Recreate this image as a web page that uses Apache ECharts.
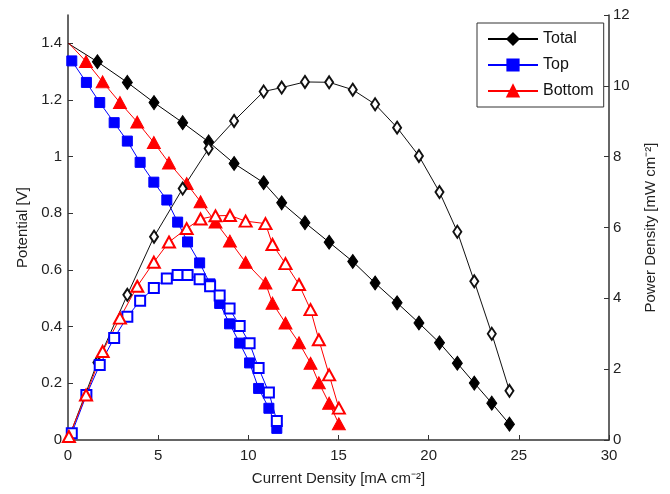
<!DOCTYPE html>
<html>
<head>
<meta charset="utf-8">
<script src="https://cdn.jsdelivr.net/npm/echarts@6/dist/echarts.min.js"></script>
<style>
html,body{margin:0;padding:0;background:#fff;}
#chart{width:670px;height:494px;}
</style>
</head>
<body>
<div id="chart"></div>
<script>
// Current density [mA cm-2]
const totalCurrent = [0, 1.63, 3.29, 4.77, 6.36, 7.80, 9.21, 10.85, 11.85, 13.14, 14.48, 15.79, 17.03, 18.25, 19.46, 20.60, 21.59, 22.53, 23.50, 24.48];
const totalPotential = [1.40, 1.335, 1.262, 1.191, 1.120, 1.052, 0.976, 0.908, 0.837, 0.767, 0.698, 0.630, 0.554, 0.484, 0.413, 0.343, 0.271, 0.201, 0.130, 0.056];
const totalPower = [0, 2.19, 4.10, 5.74, 7.10, 8.23, 9.01, 9.84, 9.95, 10.11, 10.10, 9.89, 9.48, 8.82, 8.02, 7.00, 5.88, 4.48, 3.00, 1.39];

const topCurrent = [0.21, 1.02, 1.76, 2.56, 3.29, 4.00, 4.76, 5.48, 6.08, 6.63, 7.30, 7.88, 8.41, 8.96, 9.52, 10.07, 10.57, 11.14, 11.58];
const topPotential = [1.338, 1.262, 1.191, 1.120, 1.055, 0.980, 0.910, 0.847, 0.769, 0.699, 0.625, 0.551, 0.482, 0.410, 0.342, 0.272, 0.182, 0.112, 0.041];
const topPower = [0.19, 1.27, 2.12, 2.88, 3.48, 3.93, 4.29, 4.56, 4.66, 4.66, 4.54, 4.34, 4.08, 3.71, 3.22, 2.73, 2.03, 1.34, 0.54];

const bottomCurrent = [0.05, 1.00, 1.92, 2.88, 3.84, 4.76, 5.60, 6.58, 7.35, 8.18, 8.98, 9.85, 10.95, 11.34, 12.06, 12.81, 13.45, 13.91, 14.48, 15.02];
const bottomPotential = [1.40, 1.336, 1.264, 1.191, 1.122, 1.050, 0.978, 0.905, 0.841, 0.769, 0.702, 0.627, 0.554, 0.483, 0.413, 0.343, 0.271, 0.202, 0.130, 0.057];
const bottomPower = [0.10, 1.27, 2.50, 3.44, 4.34, 5.02, 5.59, 5.97, 6.24, 6.33, 6.34, 6.18, 6.11, 5.52, 4.98, 4.39, 3.68, 2.83, 1.84, 0.90];

const legendNames = ['Total', 'Top', 'Bottom'];

function pairs(xs, ys, hideFirst) {
  return xs.map(function (x, i) {
    if (hideFirst && i === 0) return { value: [x, ys[i]], symbol: 'none' };
    return [x, ys[i]];
  });
}

const FONT = 'Liberation Sans, Arial, sans-serif';
const AX = '#333';

const chart = echarts.init(document.getElementById('chart'), null, { renderer: 'canvas' });

function lineSeries(name, xs, ys, yIdx, color, symbol, size, hideFirst) {
  return {
    name: name,
    type: 'line',
    yAxisIndex: yIdx,
    data: pairs(xs, ys, hideFirst),
    symbol: symbol,
    symbolSize: size,
    showAllSymbol: true,
    animation: false,
    lineStyle: { color: color, width: 1 },
    itemStyle: { color: color, borderColor: color, borderWidth: 1 },
    emphasis: { disabled: true },
    z: 2
  };
}

chart.setOption({
  animation: false,
  backgroundColor: '#fff',
  textStyle: { fontFamily: FONT },
  grid: { left: 68, right: 61, top: 15, bottom: 54, containLabel: false },
  legend: {
    data: legendNames,
    orient: 'vertical',
    left: 477,
    top: 23,
    width: 123,
    padding: [8, 10, 8, 10],
    itemWidth: 50,
    itemHeight: 14,
    itemGap: 10,
    borderColor: '#333',
    borderWidth: 1,
    backgroundColor: '#fff',
    textStyle: { fontFamily: FONT, fontSize: 16, color: '#111' }
  },
  xAxis: {
    type: 'value',
    min: 0, max: 30, interval: 5,
    name: 'Current Density [mA cm\u207B\u00B2]',
    nameLocation: 'middle',
    nameGap: 31,
    nameTextStyle: { fontFamily: FONT, fontSize: 15, color: '#222' },
    axisLine: { show: true, onZero: false, lineStyle: { color: AX, width: 1.5 } },
    axisTick: { show: true, inside: true, length: 5, lineStyle: { color: AX } },
    axisLabel: { fontFamily: FONT, fontSize: 15, color: '#222', margin: 8 },
    splitLine: { show: false }
  },
  yAxis: [{
    type: 'value',
    position: 'left',
    min: 0, max: 1.5, interval: 0.2,
    name: 'Potential [V]',
    nameLocation: 'middle',
    nameGap: 35,
    nameRotate: 90,
    nameTextStyle: { fontFamily: FONT, fontSize: 15, color: '#222' },
    axisLine: { show: true, onZero: false, lineStyle: { color: AX, width: 1.5 } },
    axisTick: { show: true, inside: true, length: 5, lineStyle: { color: AX } },
    axisLabel: { fontFamily: FONT, fontSize: 15, color: '#222', margin: 6, showMaxLabel: false },
    splitLine: { show: false }
  }, {
    type: 'value',
    position: 'right',
    min: 0, max: 12, interval: 2,
    name: 'Power Density [mW cm\u207B\u00B2]',
    nameLocation: 'middle',
    nameGap: 34,
    nameRotate: 90,
    nameTextStyle: { fontFamily: FONT, fontSize: 15, color: '#222' },
    axisLine: { show: true, onZero: false, lineStyle: { color: AX, width: 1.5 } },
    axisTick: { show: true, inside: true, length: 5, lineStyle: { color: AX } },
    axisLabel: { fontFamily: FONT, fontSize: 15, color: '#222', margin: 4 },
    splitLine: { show: false }
  }],
  series: [
    lineSeries('Total', totalCurrent, totalPotential, 0, '#000000', 'diamond', [10, 14], true),
    lineSeries('Top', topCurrent, topPotential, 0, '#0000ff', 'rect', [10, 10], false),
    lineSeries('Bottom', bottomCurrent, bottomPotential, 0, '#ff0000', 'triangle', [13, 12], true),
    lineSeries('Total power', totalCurrent, totalPower, 1, '#111111', 'emptyDiamond', [8, 12], true),
    lineSeries('Top power', topCurrent, topPower, 1, '#0000ff', 'emptyRect', [10, 10], false),
    lineSeries('Bottom power', bottomCurrent, bottomPower, 1, '#ff0000', 'emptyTriangle', [12, 11], false)
  ]
});
</script>
</body>
</html>
